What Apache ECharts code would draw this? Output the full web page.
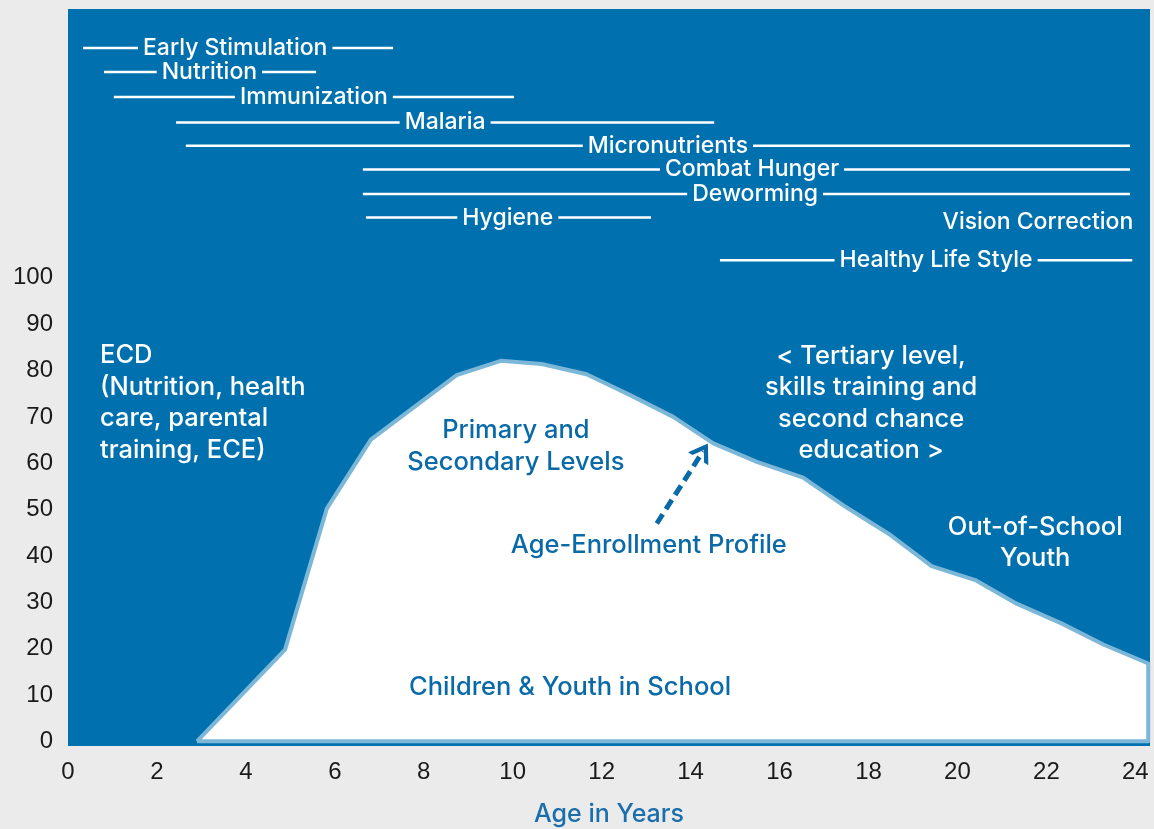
<!DOCTYPE html>
<html lang="en">
<head>
<meta charset="UTF-8">
<title>Age-Enrollment Profile</title>
<style>html,body{margin:0;padding:0;background:#ebebeb;}</style>
</head>
<body>
<div id="container" style="width:1154px;height:829px"></div>
<script src="https://cdn.jsdelivr.net/npm/echarts@6/dist/echarts.min.js"></script>
<script>
// enrollment profile: age in years, % enrolled (closed outline)
var ages = [2.9, 4.88, 5.82, 6.81, 8.74, 9.73, 10.65, 11.66, 12.64, 13.61, 14.51, 15.49,
            16.53, 17.5, 18.45, 19.42, 20.4, 21.33, 22.35, 23.28, 24.29, 24.29, 2.9];
var enrolled = [0, 19.8, 50.2, 65.1, 79.0, 82.1, 81.4, 79.2, 74.7, 70.0, 64.3, 60.3,
                56.9, 50.5, 44.8, 37.8, 34.8, 29.7, 25.4, 20.9, 16.8, 0, 0];

var xTicks = [0, 2, 4, 6, 8, 10, 12, 14, 16, 18, 20, 22, 24];
var yTicks = [0, 10, 20, 30, 40, 50, 60, 70, 80, 90, 100];

// intervention age ranges shown above the chart
var programs = ['Early Stimulation', 'Nutrition', 'Immunization', 'Malaria', 'Micronutrients',
                'Combat Hunger', 'Deworming', 'Hygiene', 'Vision Correction', 'Healthy Life Style'];
var progStart = [0.34, 0.81, 1.03, 2.43, 2.65, 6.63, 6.63, 6.70, null, 14.66];
var progEnd = [7.31, 5.58, 10.03, 14.53, 23.88, 23.88, 23.88, 13.11, null, 23.93];
var progLabelX = [3.76, 3.18, 5.53, 8.48, 13.49, 15.38, 15.45, 9.89, 21.81, 19.52];
var progLevel = [149.6, 144.4, 139.0, 133.5, 128.5, 123.4, 118.1, 113.0, 112.0, 103.8];

// notes written on the dark background
var ecdNote = 'ECD\n(Nutrition, health\ncare, parental\ntraining, ECE)';
var ecdPos = [0.72, 73.0];
var darkNotes = ['< Tertiary level,\nskills training and\nsecond chance\neducation >', 'Out-of-School\nYouth'];
var darkNoteX = [18.06, 21.75];
var darkNoteY = [72.9, 42.8];

// notes written inside the enrollment area
var lightNotes = ['Primary and\nSecondary Levels', 'Age-Enrollment Profile', 'Children & Youth in School'];
var lightNoteX = [10.07, 13.06, 11.29];
var lightNoteY = [63.6, 42.2, 11.6];

var arrowFrom = [13.24, 47.0];
var arrowTo = [14.28, 62.6];

var BLUE = '#0071ae';
var TEXT_BLUE = '#0a6aa8';
var FONT = 'Inter, "Liberation Sans", Arial, sans-serif';

var chart = echarts.init(document.getElementById('container'));

var series = [];

series.push({
    type: 'line',
    data: ages.map(function (a, i) { return [a, enrolled[i]]; }),
    symbol: 'none',
    clip: false,
    lineStyle: { color: '#7db7d8', width: 4, join: 'round' },
    areaStyle: { color: '#ffffff', opacity: 1 },
    z: 2
});

programs.forEach(function (p, i) {
    if (progStart[i] == null) return;
    series.push({
        type: 'line',
        data: [[progStart[i], progLevel[i]], [progEnd[i], progLevel[i]]],
        symbol: 'none',
        lineStyle: { color: '#ffffff', width: 2.5 },
        z: 3
    });
});

// text-only scatter: no symbol, full opacity (scatter default is 0.8)
function textSeries(items, labelStyle) {
    var label = { show: true, position: 'inside', formatter: '{b}', opacity: 1,
                  fontFamily: FONT, fontWeight: 500 };
    for (var k in labelStyle) label[k] = labelStyle[k];
    return {
        type: 'scatter',
        symbolSize: 0,
        z: 5,
        itemStyle: { opacity: 1 },
        data: items,
        label: label
    };
}

series.push(textSeries(
    programs.map(function (p, i) { return { name: p, value: [progLabelX[i], progLevel[i]] }; }),
    { color: '#ffffff', fontSize: 23, backgroundColor: BLUE, padding: [0, 5] }
));

series.push(textSeries(
    [{ name: ecdNote, value: ecdPos }],
    { color: '#ffffff', fontSize: 25.5, lineHeight: 31.5, align: 'left' }
));

series.push(textSeries(
    darkNotes.map(function (n, i) { return { name: n, value: [darkNoteX[i], darkNoteY[i]] }; }),
    { color: '#ffffff', fontSize: 25.5, lineHeight: 31.5 }
));

var lightSeries = textSeries(
    lightNotes.map(function (n, i) { return { name: n, value: [lightNoteX[i], lightNoteY[i]] }; }),
    { color: TEXT_BLUE, fontSize: 25.5, lineHeight: 32 }
);
lightSeries.markLine = {
    silent: true,
    symbol: ['none', 'path://M0,12 L7,0 L14,12 L11,12 L7,5 L3,12 Z'],
    symbolSize: [24, 18],
    label: { show: false },
    lineStyle: { color: TEXT_BLUE, width: 5, type: [11, 6], opacity: 1 },
    itemStyle: { color: TEXT_BLUE, opacity: 1 },
    data: [[{ coord: arrowFrom }, { coord: arrowTo }]]
};
series.push(lightSeries);

var option = {
    animation: false,
    backgroundColor: '#ebebeb',
    grid: {
        left: 68, right: 4, top: 9, bottom: 83,
        outerBoundsMode: 'none',
        containLabel: false,
        show: true, backgroundColor: BLUE, borderWidth: 0
    },
    xAxis: {
        type: 'value',
        min: 0, max: 24.33,
        name: 'Age in Years',
        nameLocation: 'middle',
        nameGap: 56,
        nameTextStyle: { color: '#1a6eab', fontFamily: FONT, fontWeight: 500, fontSize: 25 },
        axisLine: { show: false },
        axisTick: { show: false },
        splitLine: { show: false },
        axisLabel: {
            customValues: xTicks,
            color: '#1a1a1a', fontFamily: '"Liberation Sans", Arial, sans-serif', fontSize: 24, margin: 14
        }
    },
    yAxis: {
        type: 'value',
        min: -1, max: 158,
        axisLine: { show: false },
        axisTick: { show: false },
        splitLine: { show: false },
        axisLabel: {
            customValues: yTicks,
            color: '#1a1a1a', fontFamily: '"Liberation Sans", Arial, sans-serif', fontSize: 24, margin: 15
        }
    },
    series: series
};

chart.setOption(option);
</script>
</body>
</html>
